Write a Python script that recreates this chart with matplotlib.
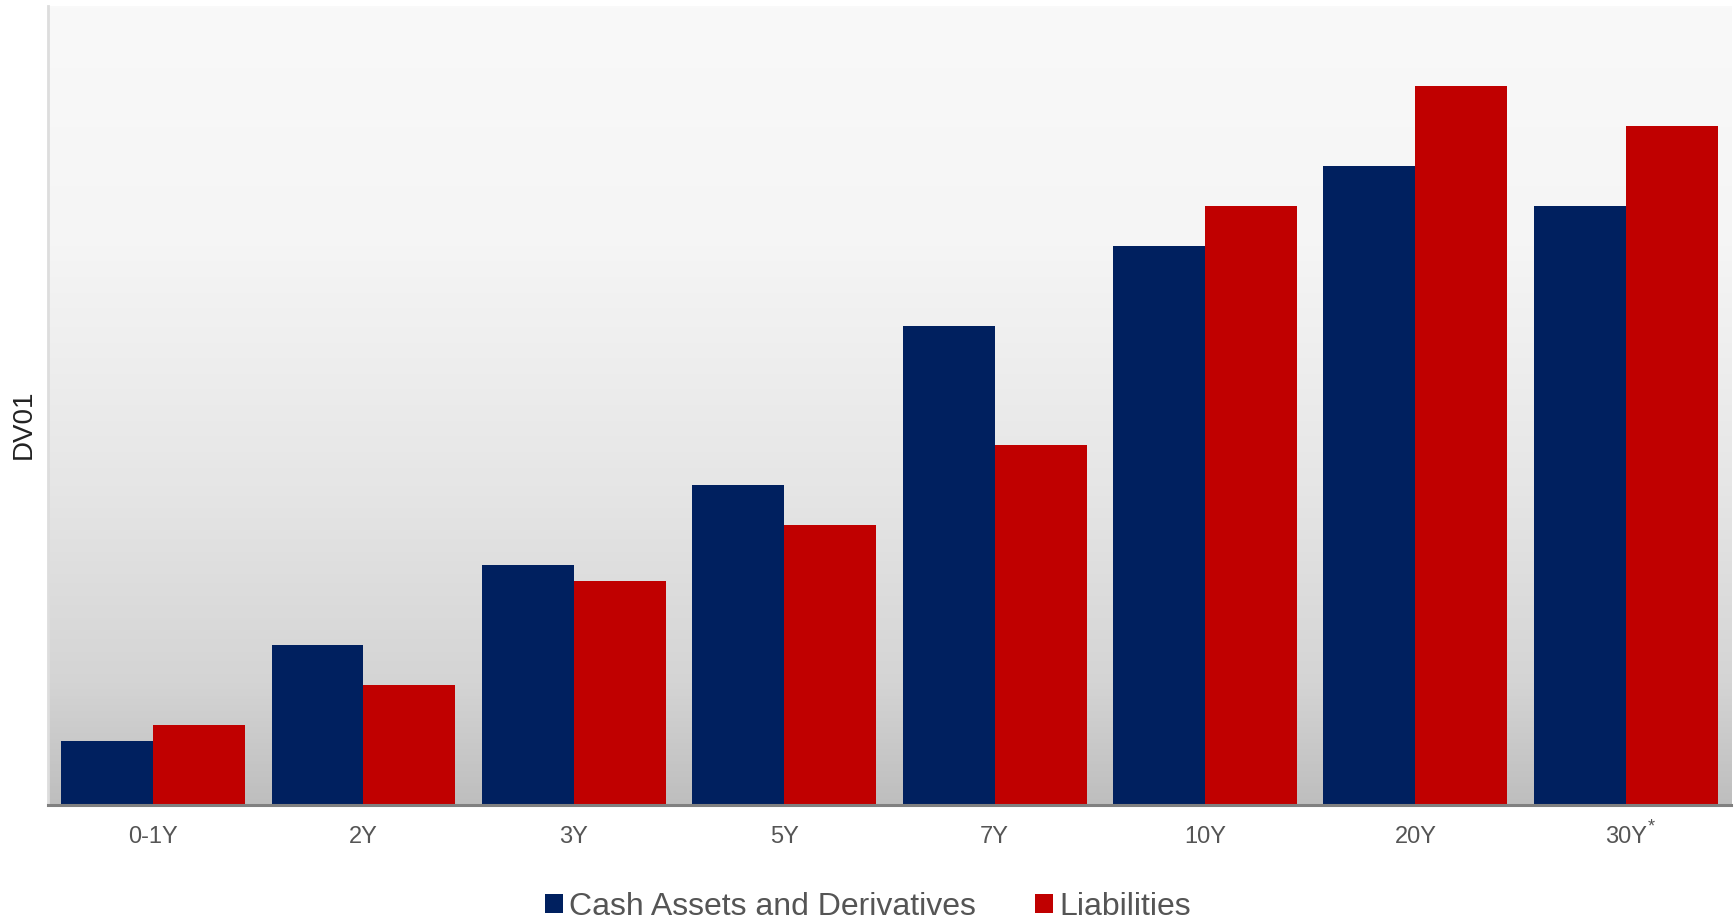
import matplotlib
matplotlib.use('Agg')
import matplotlib.pyplot as plt
import numpy as np
from matplotlib.colors import LinearSegmentedColormap
from matplotlib.patches import Patch

plt.rcParams['font.family'] = ['Liberation Sans', 'DejaVu Sans']

categories = ['0-1Y', '2Y', '3Y', '5Y', '7Y', '10Y', '20Y', '30Y']
cash_assets = [1.6, 4.0, 6.0, 8.0, 12.0, 14.0, 16.0, 15.0]
liabilities = [2.0, 3.0, 5.6, 7.0, 9.0, 15.0, 18.0, 17.0]

NAVY = '#00205f'
RED = '#c00000'
TEXT = '#555555'

fig = plt.figure(figsize=(17.36, 9.19), dpi=100)
ax = fig.add_axes([0.0276, 0.124, 0.9695, 0.8695])

# ── background gradient (light at top, grey at bottom) ─────────────────────
bg = LinearSegmentedColormap.from_list('bg', [
    (0.0, '#bebebe'), (0.15, '#d4d4d4'), (0.4, '#e6e6e6'),
    (0.7, '#f5f5f5'), (1.0, '#f9f9f9')])
grad = np.linspace(0, 1, 256).reshape(-1, 1)
ax.imshow(grad, aspect='auto', cmap=bg, origin='lower',
          extent=[0, 1, 0, 1], transform=ax.transAxes, zorder=0)

x = np.arange(len(categories))
w = 0.437
ax.bar(x - w / 2, cash_assets, width=w, color=NAVY, zorder=2,
       edgecolor='none')
ax.bar(x + w / 2, liabilities, width=w, color=RED, zorder=2,
       edgecolor='none')

ax.set_xlim(-0.5, len(categories) - 0.5)
ax.set_ylim(0, 20)
ax.set_yticks([])
ax.set_xticks(x)
ax.set_xticklabels(categories, fontsize=17, color=TEXT)
ax.tick_params(axis='x', length=0, pad=15)

# footnote marker on the last category label
ax.annotate('*', xy=(x[-1], 0), xycoords=('data', 'axes fraction'),
            xytext=(18, -16), textcoords='offset points',
            fontsize=13, color=TEXT, ha='center', va='center')

for s in ['top', 'right']:
    ax.spines[s].set_visible(False)
ax.spines['left'].set_color('#dddddd')
ax.spines['left'].set_linewidth(2)
ax.spines['bottom'].set_color('#808080')
ax.spines['bottom'].set_linewidth(2.2)
ax.spines['bottom'].set_zorder(3)

ax.set_ylabel('DV01', fontsize=20, color='#222222')
ax.yaxis.set_label_coords(-0.0065, 0.477)

handles = [Patch(facecolor=NAVY, label='Cash Assets and Derivatives'),
           Patch(facecolor=RED, label='Liabilities')]
fig.legend(handles=handles, loc='center', bbox_to_anchor=(0.5, 0.013),
           ncol=2, frameon=False, fontsize=23, labelcolor=TEXT,
           handlelength=0.55, handleheight=0.55, handletextpad=0.2,
           columnspacing=1.85)

fig.savefig('out.png', dpi=100)
